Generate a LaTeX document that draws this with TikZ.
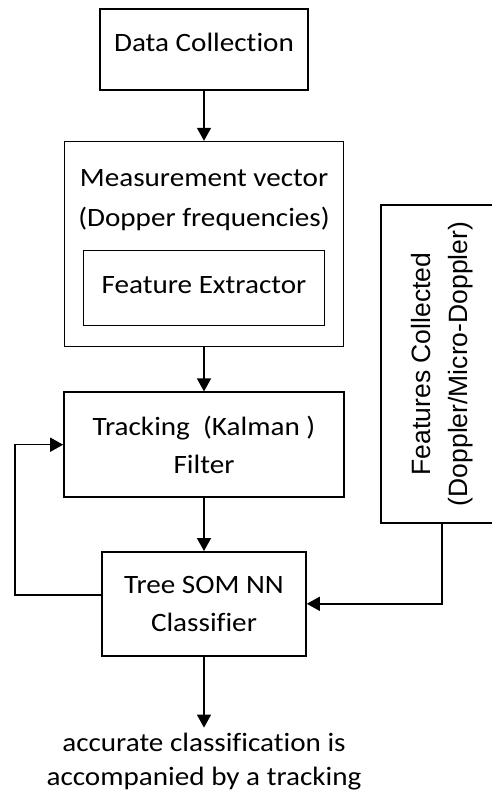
\documentclass[tikz,border=0pt]{standalone}
\usepackage{fontspec}
\setmainfont{Carlito}[FakeStretch=1.1, Ligatures=NoCommon]
\newfontfamily\sidefont{Liberation Sans}
\usetikzlibrary{arrows.meta, positioning}

\begin{document}
\begin{tikzpicture}[node distance=50pt,
  every node/.style={align=center, inner sep=0pt, font=\fontsize{26.5}{38}\selectfont},
  box/.style={draw, line width=1.6pt},
  flow/.style={-{Triangle[length=13pt, width=14pt]}, line width=1.5pt}]
\useasboundingbox (0,0) rectangle (491pt,-791pt);
\node (datacol) [box, minimum width=208pt, minimum height=81pt, text height=20pt, text depth=15pt] at (204pt,-49.5pt) {Data Collection};
\node (measbox) [box, below=50pt of datacol, minimum width=279pt, minimum height=205pt] {};
\node (meastext) [below=28pt of measbox.north, font=\fontsize{26.5}{40}\selectfont] {Measurement vector\\(Dopper frequencies)};
\node (extract) [box, above=21pt of measbox.south, minimum width=241pt, minimum height=75pt, text height=20pt, text depth=9pt] {Feature Extractor};
\node (track) [box, below=44pt of measbox, minimum width=280pt, minimum height=105pt] {Tracking\ \ (Kalman )\\Filter};
\node (classif) [box, below=53pt of track, minimum width=204pt, minimum height=104pt] {Tree SOM NN\\Classifier};
\node (result) [below=76pt of classif, font=\fontsize{26.5}{34}\selectfont] {accurate classification is\\accompanied by a tracking};
\node (features) [box, rotate=90, minimum width=318pt, minimum height=122pt, font={\sidefont\fontsize{26.5}{37}\selectfont}] at (442pt,-364pt) {Features Collected\\(Doppler/Micro-Doppler)};
\draw[flow] (datacol) -- (measbox);
\draw[flow] (measbox) -- (track);
\draw[flow] (track) -- (classif);
\draw[flow, shorten >=5pt] (classif) -- (result);
\draw[flow] ([yshift=9pt]classif.west) -- ++(-86pt,0) |- (track.west);
\draw[flow] (features.west) |- (classif.east);
\end{tikzpicture}
\end{document}
